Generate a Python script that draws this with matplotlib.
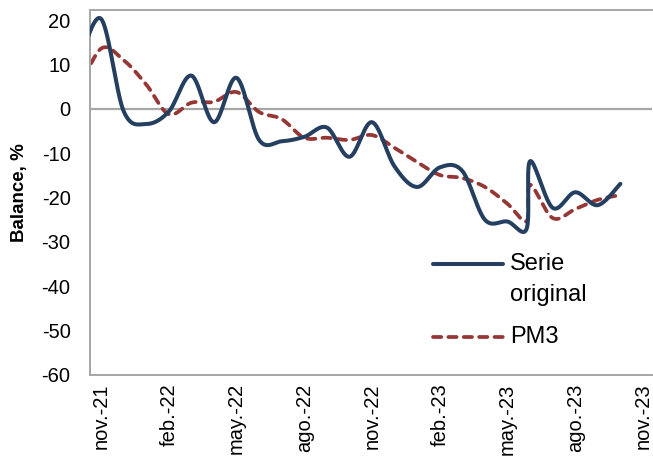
import numpy as np
import matplotlib
matplotlib.use('Agg')
import matplotlib.pyplot as plt
from matplotlib.lines import Line2D

plt.rcParams['font.family'] = ['Liberation Sans', 'DejaVu Sans']
plt.rcParams['axes.unicode_minus'] = False

# month index, 0 = nov.-21 (one extra observation close to jun.-23)
meses = [-1, 0, 1, 2, 3, 4, 5, 6, 7, 8, 9, 10, 11, 12, 13, 14, 15, 16, 17, 18,
         18.85, 19, 20, 21, 22, 23]
serie_original = [10, 20.3, -0.5, -3.4, -0.6, 7.5, -3.0, 7.0, -7.0, -7.3, -6.3,
                  -4.2, -10.8, -3.0, -13.0, -17.6, -13.2, -14.0, -25.0, -25.4,
                  -27.0, -11.8, -22.3, -18.8, -21.7, -16.9]
pm3 = [4, 13.6, 11.0, 5.5, -1.2, 1.4, 1.6, 3.8, -0.7, -2.3, -6.5, -6.5, -7.0,
       -5.9, -8.8, -12.0, -14.9, -15.6, -17.6, -21.4, -25.3, -17.1, -24.6,
       -22.6, -20.5, -19.4]
tick_pos = [0, 3, 6, 9, 12, 15, 18, 21, 24]
tick_labels = ['nov.-21', 'feb.-22', 'may.-22', 'ago.-22', 'nov.-22',
               'feb.-23', 'may.-23', 'ago.-23', 'nov.-23']

BLUE = '#243f60'
RED = '#953735'
GREY = '#a6a6a6'
RED_DASH = (2.2, 1.9)


def smooth(x, y, n=40):
    # Excel-style smoothed line: cubic Bezier with Catmull-Rom control points
    p = np.column_stack([x, y]).astype(float)
    ext = np.vstack([p[0], p, p[-1]])
    out = []
    t = np.linspace(0, 1, n)[:, None]
    for i in range(len(p) - 1):
        p0, p3 = ext[i + 1], ext[i + 2]
        p1 = p0 + (ext[i + 2] - ext[i]) / 6
        p2 = p3 - (ext[i + 3] - ext[i + 1]) / 6
        seg = ((1 - t) ** 3 * p0 + 3 * (1 - t) ** 2 * t * p1
               + 3 * (1 - t) * t ** 2 * p2 + t ** 3 * p3)
        out.append(seg if i == 0 else seg[1:])
    out = np.vstack(out)
    return out[:, 0], out[:, 1]


fig = plt.figure(figsize=(6.53, 4.70), dpi=100)
ax = fig.add_axes([90 / 653, 1 - 375 / 470, 562 / 653, 365 / 470])

ax.axhline(0, color=GREY, lw=1.6, zorder=1)

xs, ys = smooth(meses, serie_original)
ax.plot(xs, ys, color=BLUE, lw=2.9, solid_capstyle='round', zorder=3)
xs, ys = smooth(meses, pm3)
ax.plot(xs, ys, color=RED, lw=2.7, dashes=RED_DASH, dash_capstyle='round',
        zorder=2)

ax.set_xlim(-0.49, 24.4)
ax.set_ylim(-60, 22.3)
ax.set_yticks(range(-60, 21, 10))
ax.set_xticks(tick_pos)
ax.set_xticklabels(tick_labels, rotation=90, fontsize=14.5)
ax.tick_params(axis='y', labelsize=14.5, length=0, pad=14)
ax.tick_params(axis='x', length=0, pad=6)

for side in ['left', 'top', 'bottom', 'right']:
    ax.spines[side].set_color(GREY)
    ax.spines[side].set_linewidth(1.4)
ax.spines['right'].set_visible(False)

ax.set_ylabel('Balance, %', fontsize=13.5, fontweight='bold', labelpad=10)

# legend drawn in axes fraction so the handle sits on the first text line
tr = ax.transAxes
ax.add_line(Line2D([0.610, 0.735], [0.304, 0.304], transform=tr, color=BLUE,
                   lw=2.9, solid_capstyle='round'))
ax.add_line(Line2D([0.610, 0.735], [0.104, 0.104], transform=tr, color=RED,
                   lw=2.7, dashes=RED_DASH, dash_capstyle='round'))
ax.text(0.747, 0.304, 'Serie', transform=tr, fontsize=17, va='center')
ax.text(0.747, 0.219, 'original', transform=tr, fontsize=17, va='center')
ax.text(0.747, 0.104, 'PM3', transform=tr, fontsize=17, va='center')

fig.savefig('out.png', dpi=100)
